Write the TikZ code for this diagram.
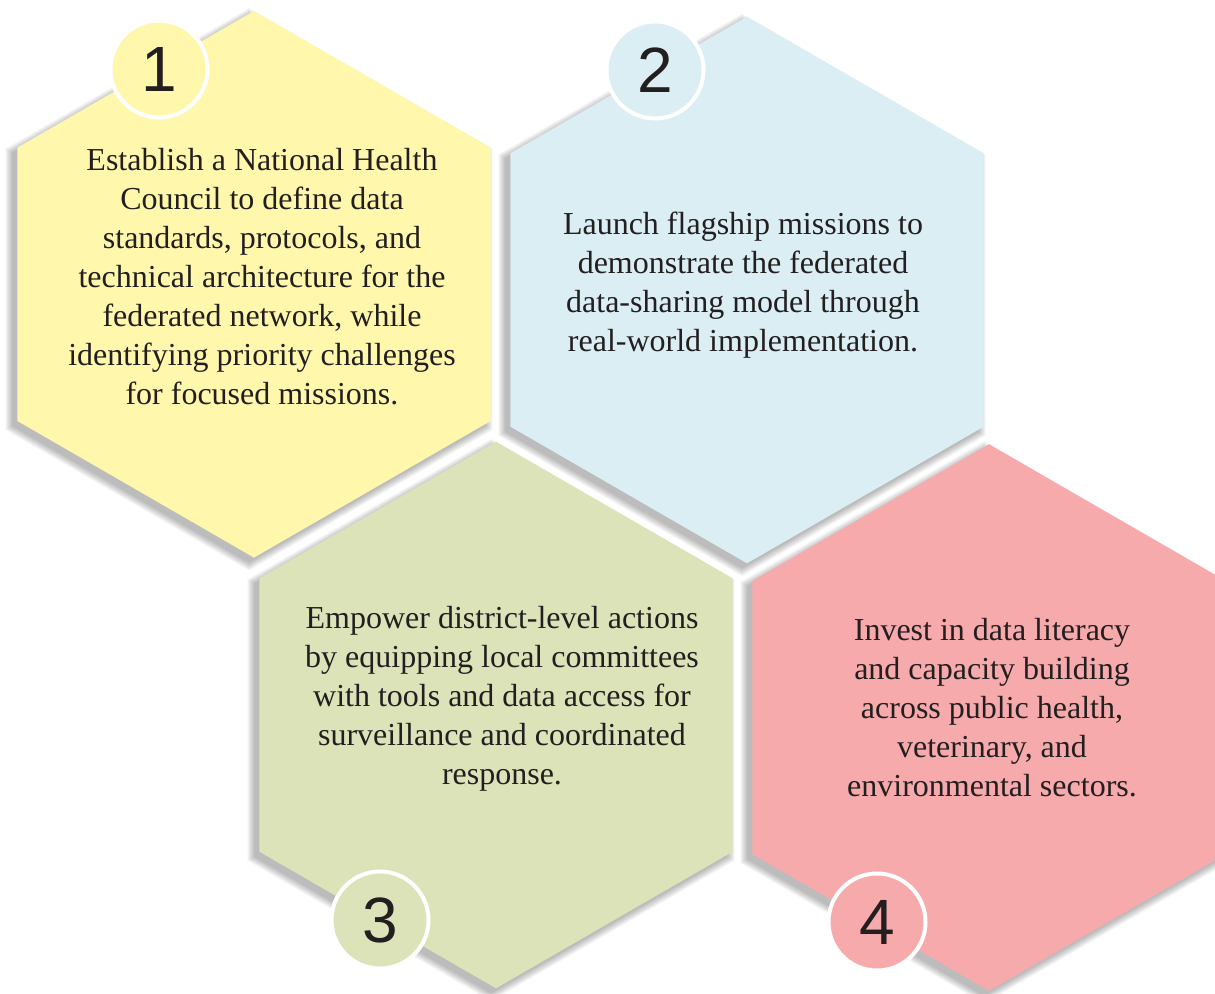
\documentclass[tikz,border=0pt]{standalone}
\usepackage{fontspec}
\setmainfont{Liberation Serif}
\newfontfamily\numfont{Liberation Sans}
\usetikzlibrary{shapes.geometric}
\definecolor{hexyellow}{RGB}{255,247,172}
\definecolor{hexblue}{RGB}{218,238,243}
\definecolor{hexgreen}{RGB}{220,227,184}
\definecolor{hexpink}{RGB}{246,170,172}
\definecolor{txt}{RGB}{35,31,32}
\tikzset{
  hexbox/.style={regular polygon, regular polygon sides=6, regular polygon rotate=30,
    minimum size=546.6pt, inner sep=0pt, outer sep=0pt},
  shadowlayer/.style={fill=black, fill opacity=0.032, draw=none},
  numcircle/.style={circle, minimum size=97pt, inner sep=0pt, draw=white, line width=4pt,
    text=txt, font=\numfont\fontsize{64}{64}\selectfont},
  bodytext/.style={align=center, text=txt, font=\fontsize{32}{39}\selectfont, inner sep=0pt}
}
\newcommand\hexshadow[2]{%
  \foreach \k in {0,...,8}{%
    \fill[shadowlayer, shift={(#1-5,#2+5)}]
      (90:{273.3+\k}) -- (150:{273.3+\k}) -- (210:{273.3+\k}) --
      (270:{273.3+\k}) -- (330:{273.3+\k}) -- (30:{273.3+\k}) -- cycle;
  }%
}
\begin{document}
\begin{tikzpicture}[x=1pt,y=-1pt]
\useasboundingbox (0,0) rectangle (1215,993);
\fill[white] (0,0) rectangle (1215,993);
\begin{scope}
\clip (0,0) rectangle (1215,993);
\hexshadow{254}{284.3}
\hexshadow{747}{290}
\hexshadow{496}{715}
\hexshadow{989}{717.5}

\node[hexbox, fill=hexyellow] (h1) at (254,284.3) {};
\node[hexbox, fill=hexblue] (h2) at (747,290) {};
\node[hexbox, fill=hexgreen] (h3) at (496,715) {};
\node[hexbox, fill=hexpink] (h4) at (989,717.5) {};

\node[numcircle, fill=hexyellow] (c1) at (159,69) {1};
\node[numcircle, fill=hexblue] (c2) at (655,70) {2};
\node[numcircle, fill=hexgreen] (c3) at (380,920) {3};
\node[numcircle, fill=hexpink] (c4) at (877,922) {4};

\node[bodytext] (t1) at (262,277) {Establish a National Health\\Council to define data\\standards, protocols, and\\technical architecture for the\\federated network, while\\identifying priority challenges\\for focused missions.};
\node[bodytext] (t2) at (743,285.5) {Launch flagship missions to\\demonstrate the federated\\data-sharing model through\\real-world implementation.};
\node[bodytext] (t3) at (502,699) {Empower district-level actions\\by equipping local committees\\with tools and data access for\\surveillance and coordinated\\response.};
\node[bodytext] (t4) at (992,707.5) {Invest in data literacy\\and capacity building\\across public health,\\veterinary, and\\environmental sectors.};
\end{scope}
\end{tikzpicture}
\end{document}
